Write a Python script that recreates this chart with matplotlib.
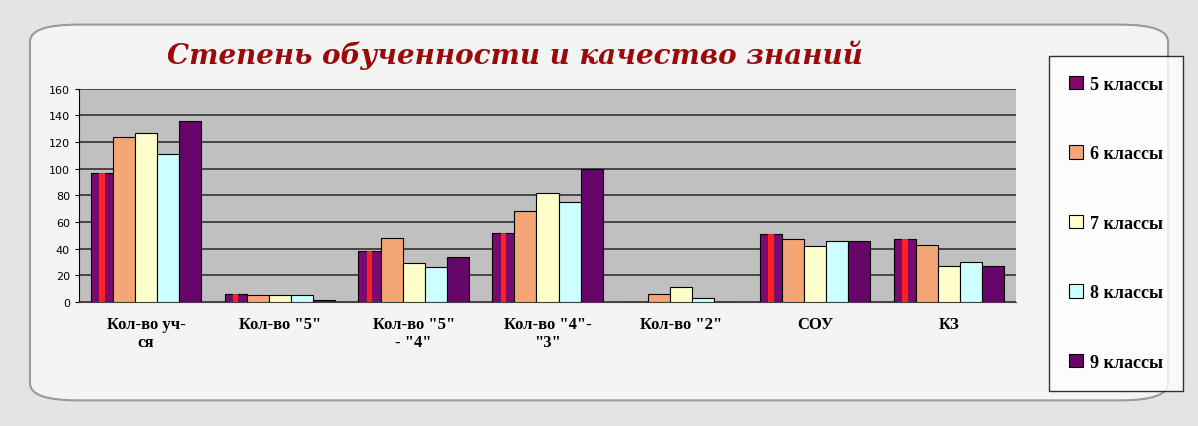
import numpy as np
import matplotlib.pyplot as plt
from matplotlib.patches import FancyBboxPatch

# categories and values
categories = ['Кол-во уч-\nся', 'Кол-во "5"', 'Кол-во "5"\n- "4"', 'Кол-во "4"-\n"3"',
              'Кол-во "2"', 'СОУ', 'КЗ']
series_names = ['5 классы', '6 классы', '7 классы', '8 классы', '9 классы']
grade5 = [97, 6, 38, 52, 0.5, 51, 47]
grade6 = [124, 5, 48, 68, 6, 47, 43]
grade7 = [127, 5, 29, 82, 11, 42, 27]
grade8 = [111, 5, 26, 75, 3, 46, 30]
grade9 = [136, 2, 34, 100, 0.5, 46, 27]
yticks = list(range(0, 161, 20))

values = [grade5, grade6, grade7, grade8, grade9]
colors = ['#7a0a6e', '#f5a677', '#ffffcc', '#ccffff', '#66066a']

fig = plt.figure(figsize=(11.98, 4.27), dpi=100)
fig.patch.set_facecolor('#e4e4e4')

# paper-like panel behind the chart
panel = FancyBboxPatch((0.025, 0.06), 0.95, 0.88, boxstyle="round,pad=0.0,rounding_size=0.04",
                       transform=fig.transFigure, facecolor='#f4f4f4', edgecolor='#9a9a9a',
                       linewidth=1.5, zorder=-1)
fig.patches.append(panel)

ax = fig.add_axes([0.066, 0.29, 0.782, 0.50])
ax.set_zorder(2)
ax.set_facecolor('#c0c0c0')

x = np.arange(len(categories))
width = 0.165
for i, (vals, col, name) in enumerate(zip(values, colors, series_names)):
    pos = x + (i - 2) * width
    ax.bar(pos, vals, width, color=col, edgecolor='black', linewidth=0.8, label=name, zorder=3)
    if i == 0:
        # red stripe down the middle of the 5th-grade bars
        ax.bar(pos, vals, width * 0.25, color='#ff2020', linewidth=0, zorder=4)

ax.set_ylim(0, 160)
ax.set_xlim(-0.5, len(categories) - 0.5)
ax.set_yticks(yticks)
ax.tick_params(axis='y', labelsize=8, length=3)
ax.set_xticks(x)
ax.set_xticklabels(categories, fontsize=12, family='Liberation Serif', fontweight='bold')
ax.tick_params(axis='x', length=0, pad=10)
ax.grid(axis='y', color='#303030', linewidth=1.2, zorder=1)
for s in ['top', 'right']:
    ax.spines[s].set_visible(False)
ax.spines['bottom'].set_color('#404040')

fig.text(0.43, 0.87, 'Степень обученности и качество знаний', fontsize=20,
         fontweight='bold', style='italic', color='#9b0a0a', ha='center', va='center',
         family='DejaVu Serif')

leg = fig.legend(loc='center left', bbox_to_anchor=(0.868, 0.475), frameon=True,
                 prop={'family': 'Liberation Serif', 'weight': 'bold', 'size': 13},
                 labelspacing=2.9, handlelength=0.8, handleheight=0.8, handletextpad=0.4,
                 borderpad=1.1, fancybox=False)
leg.get_frame().set_edgecolor('black')
leg.get_frame().set_facecolor('white')
leg.get_frame().set_linewidth(1.0)

fig.savefig('out.png', dpi=100, facecolor=fig.get_facecolor())
